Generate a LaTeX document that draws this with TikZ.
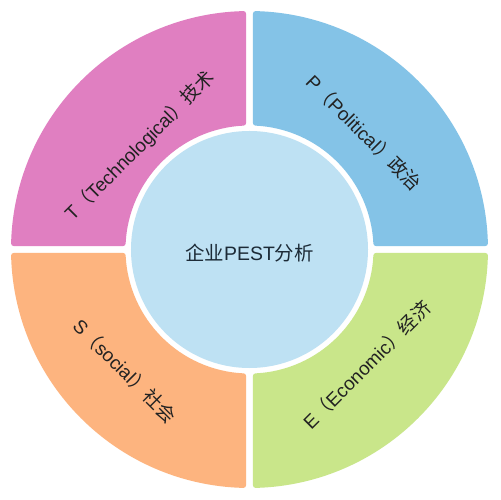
\documentclass[tikz,border=0pt]{standalone}
\usepackage{fontspec}
\setmainfont{Liberation Sans}
\newfontfamily\cjk{Noto Sans CJK SC}
\definecolor{qpink}{HTML}{E07FC1}
\definecolor{qblue}{HTML}{84C3E7}
\definecolor{qgreen}{HTML}{C9E68A}
\definecolor{qorange}{HTML}{FDB47F}
\definecolor{qcore}{HTML}{BEE1F3}
\definecolor{qtext}{HTML}{222222}
\definecolor{qcoretext}{HTML}{1C2A36}
\tikzset{
  quad/.style={line width=5bp, line join=round},
  lab/.style={inner sep=0pt, text=qtext, font=\fontsize{19}{22}\selectfont},
  core/.style={circle, fill=qcore, minimum size=237bp, inner sep=0pt}
}
\begin{document}
\begin{tikzpicture}[x=1bp,y=1bp]
\useasboundingbox[fill=white] (-249.5,-250.5) rectangle (250.5,249.5);
\pgfmathsetmacro{\Ro}{236}
\pgfmathsetmacro{\Ri}{126.5}
\pgfmathsetmacro{\g}{6}
\pgfmathsetmacro{\aO}{asin(\g/\Ro)}
\pgfmathsetmacro{\aI}{asin(\g/\Ri)}
\foreach \t/\c in {0/qblue,90/qpink,180/qorange,270/qgreen}{
  \filldraw[quad, fill=\c, draw=\c]
    ({\t+\aO}:\Ro) arc[start angle={\t+\aO}, end angle={\t+90-\aO}, radius=\Ro]
    -- ({\t+90-\aI}:\Ri) arc[start angle={\t+90-\aI}, end angle={\t+\aI}, radius=\Ri]
    -- cycle;
}
\node[core] (center) at (0,0) {};
\node[lab, text=qcoretext, font=\fontsize{19.5}{22}\selectfont] (title) at (0,-3.5) {{\cjk 企业}PEST{\cjk 分析}};
\node[lab, rotate=45] (tlab) at (-109.5,103.5) {T{\cjk （}Technological{\cjk ）技术}};
\node[lab, rotate=-45] (plab) at (114.5,116.5) {P{\cjk （}Political{\cjk ）政治}};
\node[lab, rotate=45] (elab) at (117.5,-115.5) {E{\cjk （}Economic{\cjk ）经济}};
\node[lab, rotate=-45] (slab) at (-124.5,-121.5) {S{\cjk （}social{\cjk ）社会}};
\end{tikzpicture}
\end{document}
